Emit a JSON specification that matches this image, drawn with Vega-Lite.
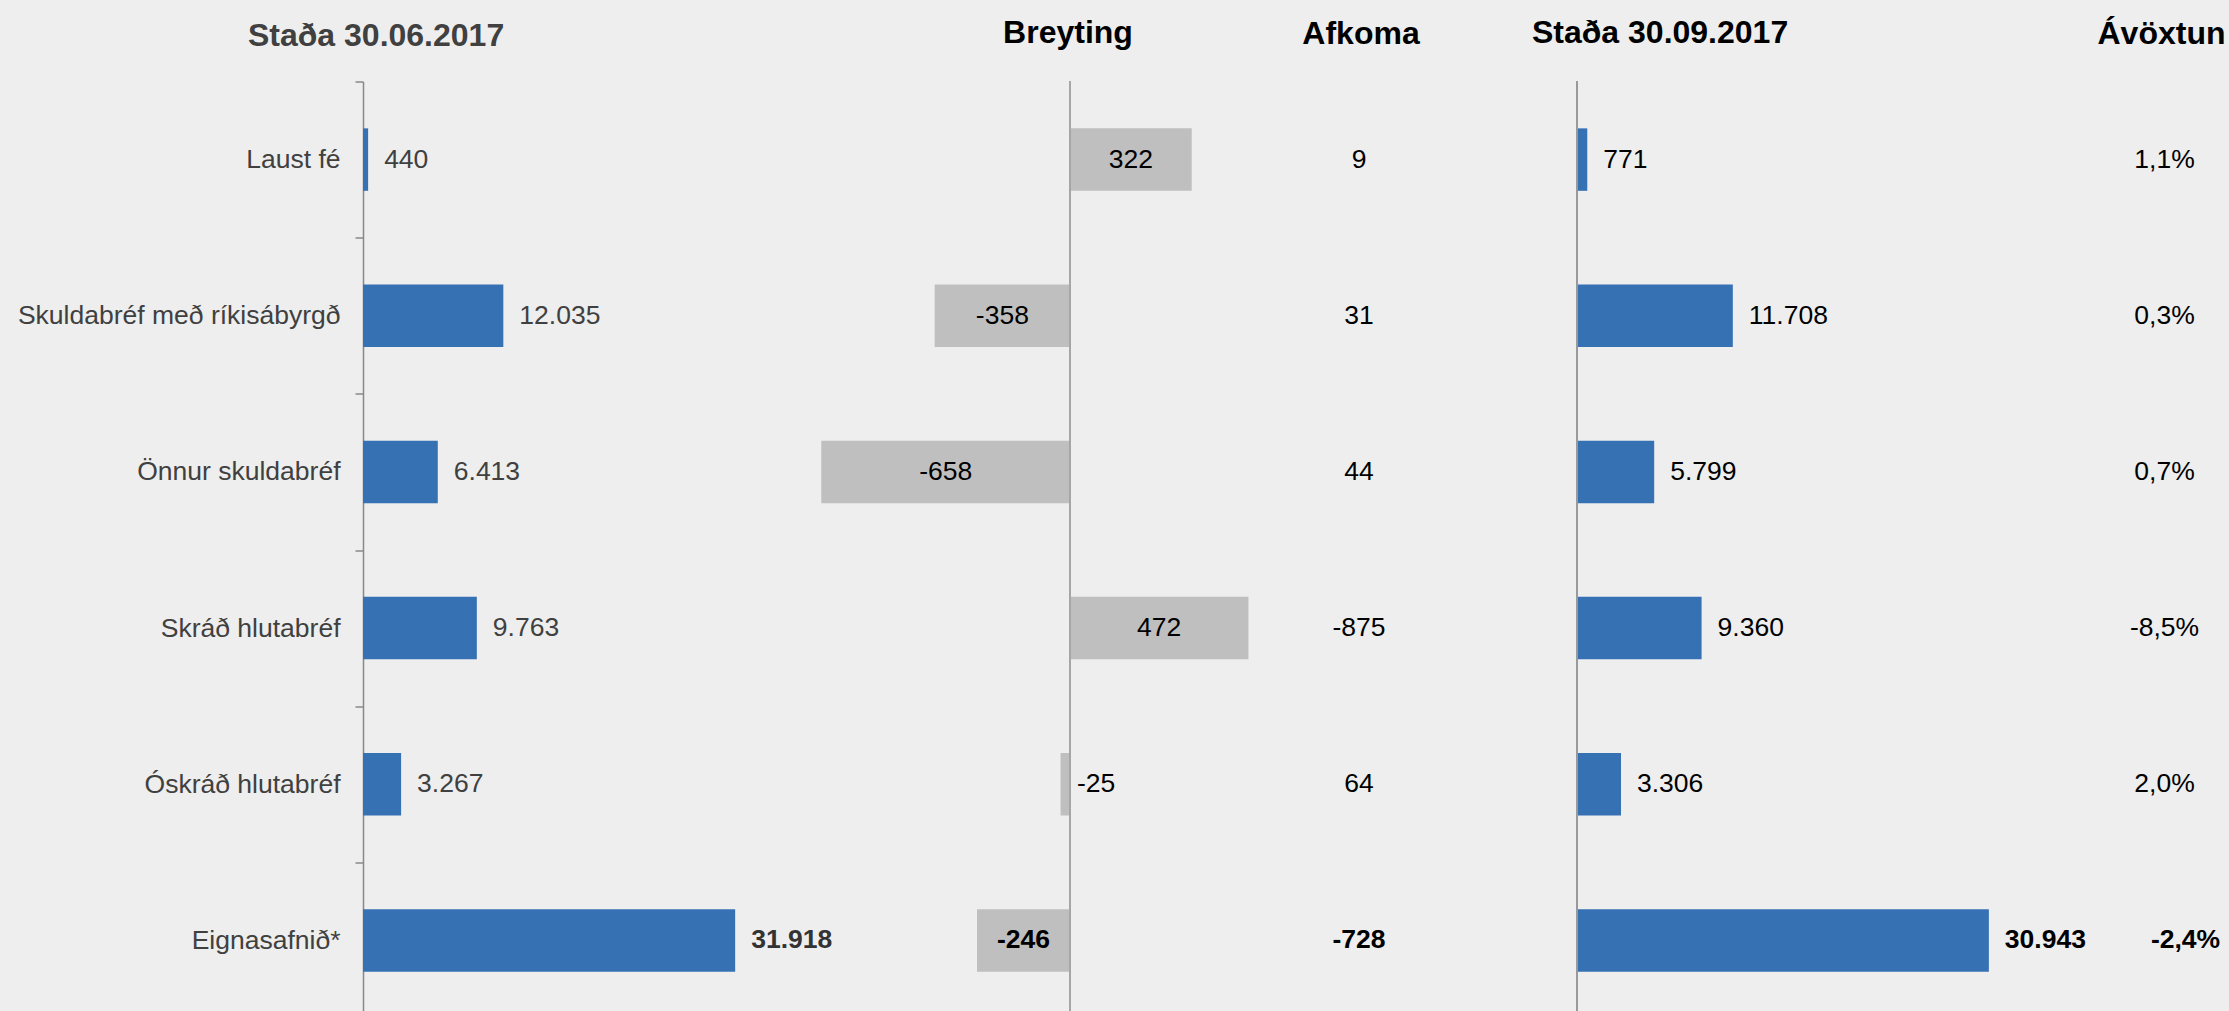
{
  "$schema": "https://vega.github.io/schema/vega-lite/v6.json",
  "background": "#eeeeee",
  "padding": {"left": 17, "top": 16.5, "right": 0, "bottom": 0},
  "config": {
    "view": {"stroke": null},
    "font": "Liberation Sans",
    "locale": {"number": {"decimal": ",", "thousands": ".", "grouping": [3], "currency": ["", ""], "minus": "-"}},
    "title": {"fontSize": 32, "fontWeight": "bold", "font": "Liberation Sans", "color": "#000000", "frame": "group", "offset": 31, "baseline": "alphabetic"},
    "text": {"fontSize": 26.5, "font": "Liberation Sans", "baseline": "middle"}
  },
  "datasets": {
    "rows": [
      {"cat": "Laust fé", "s1": 440, "br": 322, "af": 9, "s2": 771, "av": 0.011},
      {"cat": "Skuldabréf með ríkisábyrgð", "s1": 12035, "br": -358, "af": 31, "s2": 11708, "av": 0.003},
      {"cat": "Önnur skuldabréf", "s1": 6413, "br": -658, "af": 44, "s2": 5799, "av": 0.007},
      {"cat": "Skráð hlutabréf", "s1": 9763, "br": 472, "af": -875, "s2": 9360, "av": -0.085},
      {"cat": "Óskráð hlutabréf", "s1": 3267, "br": -25, "af": 64, "s2": 3306, "av": 0.020},
      {"cat": "Eignasafnið*", "s1": 31918, "br": -246, "af": -728, "s2": 30943, "av": -0.024}
    ]
  },
  "data": {"name": "rows"},
  "bounds": "flush",
  "spacing": 0,
  "hconcat": [
    {
      "width": 437,
      "height": 937,
      "title": {"text": "Staða 30.06.2017", "anchor": "start", "dx": -115, "color": "#404040", "offset": 15.5},
      "layer": [
        {
          "mark": {"type": "bar", "color": "#3671b4", "height": {"band": 0.4}},
          "encoding": {
            "y": {"field": "cat", "type": "nominal", "sort": null, "scale": {"paddingInner": 0, "paddingOuter": 0},
              "axis": {"title": null, "labelFontSize": 26.5, "labelColor": "#404040", "labelFont": "Liberation Sans", "labelPadding": 15, "labelLimit": 0, "tickSize": 8, "tickColor": "#888888", "tickWidth": 1.5, "domainColor": "#888888", "domainWidth": 1.5, "tickBand": "extent", "grid": false}},
            "x": {"field": "s1", "type": "quantitative", "scale": {"domain": [0, 37479], "nice": false}, "axis": null}
          }
        },
        {
          "transform": [{"filter": "datum.cat !== 'Eignasafnið*'"}],
          "mark": {"type": "text", "align": "left", "dx": 16, "color": "#404040"},
          "encoding": {
            "y": {"field": "cat", "type": "nominal", "sort": null},
            "x": {"field": "s1", "type": "quantitative", "axis": null},
            "text": {"field": "s1", "type": "quantitative", "format": ",d"}
          }
        },
        {
          "transform": [{"filter": "datum.cat === 'Eignasafnið*'"}],
          "mark": {"type": "text", "align": "left", "dx": 16, "color": "#333333", "fontWeight": "bold"},
          "encoding": {
            "y": {"field": "cat", "type": "nominal", "sort": null},
            "x": {"field": "s1", "type": "quantitative", "axis": null},
            "text": {"field": "s1", "type": "quantitative", "format": ",d"}
          }
        }
      ]
    },
    {
      "width": 460,
      "height": 937,
      "title": {"text": "Breyting", "dx": 38},
      "layer": [
        {
          "mark": {"type": "bar", "color": "#bfbfbf", "height": {"band": 0.4}},
          "encoding": {
            "y": {"field": "cat", "type": "nominal", "sort": null, "scale": {"paddingInner": 0, "paddingOuter": 0}, "axis": null},
            "x": {"field": "br", "type": "quantitative", "scale": {"domain": [-714.3, 502.6], "nice": false}, "axis": null}
          }
        },
        {
          "transform": [{"filter": "abs(datum.br) >= 100 && datum.cat !== 'Eignasafnið*'"}],
          "mark": {"type": "text", "align": "center", "color": "#000000"},
          "encoding": {
            "y": {"field": "cat", "type": "nominal", "sort": null},
            "x": {"field": "br", "type": "quantitative", "scale": {"domain": [-1428.6, 1005.2], "nice": false}, "axis": null},
            "text": {"field": "br", "type": "quantitative", "format": ",d"}
          }
        },
        {
          "transform": [{"filter": "datum.cat === 'Eignasafnið*'"}],
          "mark": {"type": "text", "align": "center", "color": "#000000", "fontWeight": "bold"},
          "encoding": {
            "y": {"field": "cat", "type": "nominal", "sort": null},
            "x": {"field": "br", "type": "quantitative", "scale": {"domain": [-1428.6, 1005.2], "nice": false}, "axis": null},
            "text": {"field": "br", "type": "quantitative", "format": ",d"}
          }
        },
        {
          "transform": [{"filter": "abs(datum.br) < 100"}],
          "mark": {"type": "text", "align": "left", "dx": 7, "color": "#000000"},
          "encoding": {
            "y": {"field": "cat", "type": "nominal", "sort": null},
            "x": {"datum": 0, "type": "quantitative", "scale": {"domain": [-714.3, 502.6], "nice": false}, "axis": null},
            "text": {"field": "br", "type": "quantitative", "format": ",d"}
          }
        },
        {
          "mark": {"type": "rule", "color": "#a6a6a6", "strokeWidth": 1.5},
          "encoding": {
            "x": {"datum": 0, "type": "quantitative", "scale": {"domain": [-714.3, 502.6], "nice": false}, "axis": null}
          }
        }
      ],
      "resolve": {"scale": {"x": "independent"}}
    },
    {
      "width": 198,
      "height": 937,
      "title": {"text": "Afkoma", "dx": 2},
      "layer": [
        {
          "transform": [{"filter": "datum.cat !== 'Eignasafnið*'"}],
          "mark": {"type": "text", "align": "center", "color": "#000000"},
          "encoding": {
            "y": {"field": "cat", "type": "nominal", "sort": null, "scale": {"paddingInner": 0, "paddingOuter": 0}, "axis": null},
            "text": {"field": "af", "type": "quantitative", "format": ",d"}
          }
        },
        {
          "transform": [{"filter": "datum.cat === 'Eignasafnið*'"}],
          "mark": {"type": "text", "align": "center", "color": "#000000", "fontWeight": "bold"},
          "encoding": {
            "y": {"field": "cat", "type": "nominal", "sort": null},
            "text": {"field": "af", "type": "quantitative", "format": ",d"}
          }
        }
      ]
    },
    {
      "width": 642,
      "height": 937,
      "title": {"text": "Staða 30.09.2017", "anchor": "start", "dx": 74},
      "layer": [
        {
          "mark": {"type": "bar", "color": "#3671b4", "height": {"band": 0.4}},
          "encoding": {
            "y": {"field": "cat", "type": "nominal", "sort": null, "scale": {"paddingInner": 0, "paddingOuter": 0}, "axis": null},
            "x": {"field": "s2", "type": "quantitative", "scale": {"domain": [-8941, 39293], "nice": false}, "axis": null}
          }
        },
        {
          "transform": [{"filter": "datum.cat !== 'Eignasafnið*'"}],
          "mark": {"type": "text", "align": "left", "dx": 16, "color": "#000000"},
          "encoding": {
            "y": {"field": "cat", "type": "nominal", "sort": null},
            "x": {"field": "s2", "type": "quantitative", "axis": null},
            "text": {"field": "s2", "type": "quantitative", "format": ",d"}
          }
        },
        {
          "transform": [{"filter": "datum.cat === 'Eignasafnið*'"}],
          "mark": {"type": "text", "align": "left", "dx": 16, "color": "#000000", "fontWeight": "bold"},
          "encoding": {
            "y": {"field": "cat", "type": "nominal", "sort": null},
            "x": {"field": "s2", "type": "quantitative", "axis": null},
            "text": {"field": "s2", "type": "quantitative", "format": ",d"}
          }
        },
        {
          "mark": {"type": "rule", "color": "#999999", "strokeWidth": 1.5},
          "encoding": {
            "x": {"datum": 0, "type": "quantitative", "axis": null}
          }
        }
      ]
    },
    {
      "width": 129,
      "height": 937,
      "title": {"text": "Ávöxtun", "dx": -3},
      "layer": [
        {
          "transform": [{"filter": "datum.cat !== 'Eignasafnið*'"}],
          "mark": {"type": "text", "align": "center", "color": "#000000"},
          "encoding": {
            "y": {"field": "cat", "type": "nominal", "sort": null, "scale": {"paddingInner": 0, "paddingOuter": 0}, "axis": null},
            "text": {"field": "av", "type": "quantitative", "format": ".1%"}
          }
        },
        {
          "transform": [{"filter": "datum.cat === 'Eignasafnið*'"}],
          "mark": {"type": "text", "align": "center", "dx": 21, "color": "#000000", "fontWeight": "bold"},
          "encoding": {
            "y": {"field": "cat", "type": "nominal", "sort": null},
            "text": {"field": "av", "type": "quantitative", "format": ".1%"}
          }
        }
      ]
    }
  ]
}
